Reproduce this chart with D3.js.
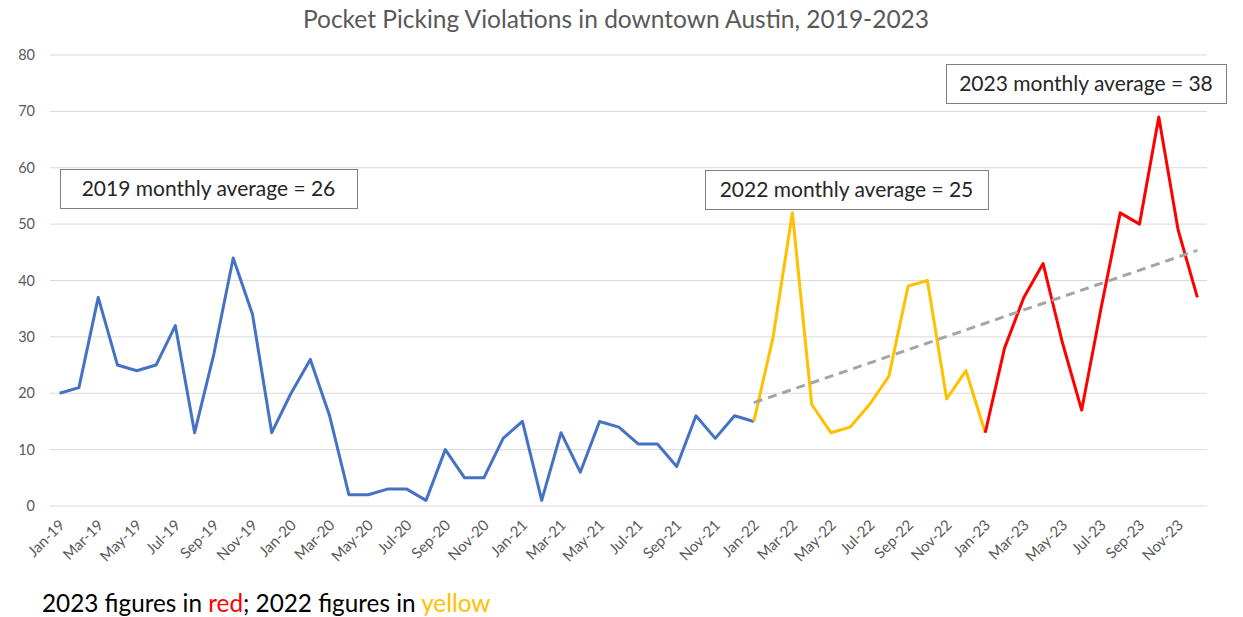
<!DOCTYPE html>
<html>
<head>
<meta charset="utf-8">
<script src="https://cdn.jsdelivr.net/npm/d3@7"></script>
<style>
  body { margin: 0; background: #fff; }
  svg { display: block; }
</style>
</head>
<body>
<svg id="chart" width="1243" height="617"></svg>
<script>
// Monthly categories Jan-19 .. Dec-23
const monthNames = ["Jan","Feb","Mar","Apr","May","Jun","Jul","Aug","Sep","Oct","Nov","Dec"];
const years = ["19","20","21","22","23"];
const months = [];
years.forEach(y => monthNames.forEach(m => months.push(m + "-" + y)));

// Violations per month
const values2019 = [20, 21, 37, 25, 24, 25, 32, 13, 27, 44, 34, 13];
const values2020 = [20, 26, 16, 2, 2, 3, 3, 1, 10, 5, 5, 12];
const values2021 = [15, 1, 13, 6, 15, 14, 11, 11, 7, 16, 12, 16];
const values2022 = [15, 30, 52, 18, 13, 14, 18, 23, 39, 40, 19, 24];
const values2023 = [13, 28, 37, 43, 29, 17, 35, 52, 50, 69, 49, 37];
const values = [].concat(values2019, values2020, values2021, values2022, values2023);

const yTicks = [0, 10, 20, 30, 40, 50, 60, 70, 80];

const notes = [
  {text: "2019 monthly average = 26", x: 60, y: 169, w: 297, h: 39},
  {text: "2022 monthly average = 25", x: 705, y: 170, w: 283, h: 39},
  {text: "2023 monthly average = 38", x: 946, y: 64, w: 280, h: 39}
];

const blue = "#4472C4", yellow = "#FFC000", red = "#FF0000";

const svg = d3.select("#chart");
const font = "Lato, 'Open Sans', sans-serif";

const x = d3.scalePoint()
  .domain(months)
  .range([50, 1207])
  .padding(0.5);

const y = d3.scaleLinear()
  .domain([0, 80])
  .range([506, 55]);

// Title
svg.append("text")
  .attr("x", 616)
  .attr("y", 28)
  .attr("text-anchor", "middle")
  .attr("font-family", font)
  .attr("font-size", 24.5)
  .attr("fill", "#595959")
  .text("Pocket Picking Violations in downtown Austin, 2019-2023");

// Gridlines
svg.append("g")
  .selectAll("line")
  .data(yTicks)
  .join("line")
  .attr("x1", 50).attr("x2", 1207)
  .attr("y1", d => y(d)).attr("y2", d => y(d))
  .attr("stroke", "#d9d9d9")
  .attr("stroke-width", 1);

// Y axis labels
svg.append("g")
  .selectAll("text")
  .data(yTicks)
  .join("text")
  .attr("x", 35)
  .attr("y", d => y(d))
  .attr("dy", "0.35em")
  .attr("text-anchor", "end")
  .attr("font-family", font)
  .attr("font-size", 14.5)
  .attr("fill", "#595959")
  .text(d => d);

// X axis labels, every other month, rotated
svg.append("g")
  .selectAll("text")
  .data(months.filter((d, i) => i % 2 === 0))
  .join("text")
  .attr("transform", d => `translate(${x(d) + 6},${526}) rotate(-45)`)
  .attr("text-anchor", "end")
  .attr("font-family", font)
  .attr("font-size", 15)
  .attr("fill", "#595959")
  .text(d => d);

// Line segments per colour
const line = d3.line()
  .x(d => x(d.m))
  .y(d => y(d.v));

const pts = months.map((m, i) => ({m: m, v: values[i]}));
const segments = [
  {from: 0, to: 36, color: blue},
  {from: 36, to: 48, color: yellow},
  {from: 48, to: 59, color: red}
];

// Trendline: least squares over 2022-2023
const trendPts = pts.slice(36);
const n = trendPts.length;
const xm = (n - 1) / 2;
const ym = d3.mean(trendPts, d => d.v);
let sxy = 0, sxx = 0;
trendPts.forEach((d, i) => { sxy += (i - xm) * (d.v - ym); sxx += (i - xm) * (i - xm); });
const slope = sxy / sxx;
const icpt = ym - slope * xm;

svg.append("g")
  .selectAll("path")
  .data(segments)
  .join("path")
  .attr("d", s => line(pts.slice(s.from, s.to + 1)))
  .attr("fill", "none")
  .attr("stroke", s => s.color)
  .attr("stroke-width", 3)
  .attr("stroke-linejoin", "round");

svg.append("line")
  .attr("x1", x(months[36]))
  .attr("y1", y(icpt))
  .attr("x2", x(months[59]))
  .attr("y2", y(icpt + slope * (n - 1)))
  .attr("stroke", "#A5A5A5")
  .attr("stroke-width", 3)
  .attr("stroke-dasharray", "9,6");

// Annotation boxes
const note = svg.append("g")
  .selectAll("g")
  .data(notes)
  .join("g");

note.append("rect")
  .attr("x", d => d.x + 0.5)
  .attr("y", d => d.y + 0.5)
  .attr("width", d => d.w)
  .attr("height", d => d.h)
  .attr("fill", "#fff")
  .attr("stroke", "#7f7f7f")
  .attr("stroke-width", 1);

note.append("text")
  .attr("x", d => d.x + d.w / 2)
  .attr("y", d => d.y + d.h / 2)
  .attr("dy", "0.35em")
  .attr("text-anchor", "middle")
  .attr("font-family", font)
  .attr("font-size", 21)
  .attr("fill", "#262626")
  .text(d => d.text);

// Footer note
const foot = svg.append("text")
  .attr("x", 42)
  .attr("y", 612)
  .attr("font-family", font)
  .attr("font-size", 24.3)
  .attr("fill", "#000");
foot.append("tspan").text("2023 figures in ");
foot.append("tspan").attr("fill", red).text("red");
foot.append("tspan").text("; 2022 figures in ");
foot.append("tspan").attr("fill", yellow).text("yellow");
</script>
</body>
</html>
